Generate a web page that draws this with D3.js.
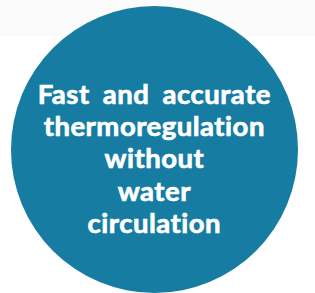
<!DOCTYPE html>
<html><head><meta charset="utf-8">
<script src="https://cdn.jsdelivr.net/npm/d3@7"></script>
<style>html,body{margin:0;padding:0;background:#fff;overflow:hidden}</style>
</head><body>
<script>
const labelLines = ["Fast and accurate", "thermoregulation", "without", "water", "circulation"];
const circles = [{name: "badge", value: 1}];

const W = 315, H = 293;
const svg = d3.select("body").append("svg").attr("width", W).attr("height", H);
svg.append("rect").attr("width", W).attr("height", 36).attr("fill", "#fbfbfb");

const r = d3.scaleSqrt().domain([0, 1]).range([0, 143.5]);
svg.selectAll("circle").data(circles).join("circle")
  .attr("cx", 154.5).attr("cy", 149.5).attr("r", d => r(d.value))
  .attr("fill", "#167ca1");

const y = d3.scalePoint().domain(labelLines).range([103.5, 233]);
svg.selectAll("text.lbl").data(labelLines).join("text")
  .attr("class", "lbl")
  .attr("x", 154.3).attr("y", d => y(d))
  .attr("text-anchor", "middle")
  .attr("fill", "#fff")
  .attr("stroke", "#fff")
  .attr("stroke-width", 0.7)
  .style("font-family", "Lato, sans-serif")
  .style("font-weight", "bold")
  .style("font-size", "27.5px")
  .style("letter-spacing", "0.5px")
  .style("word-spacing", "6px")
  .style("font-variant-ligatures", "none")
  .text(d => d);
</script>
</body></html>
